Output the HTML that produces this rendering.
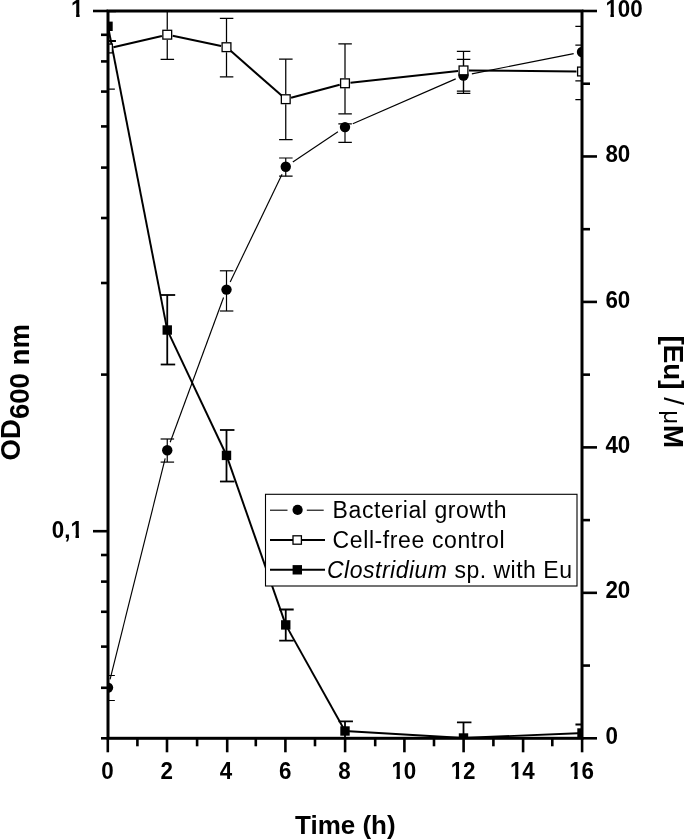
<!DOCTYPE html>
<html><head><meta charset="utf-8"><title>Chart</title>
<style>html,body{margin:0;padding:0;background:#fff;}svg{display:block;}</style>
</head><body>
<svg width="685" height="840" viewBox="0 0 685 840">
<defs><clipPath id="c0"><rect x="-20" y="-60" width="120" height="56.590"/><rect x="-20.000" y="-3.410" width="20.350" height="30.000"/><rect x="5.492" y="-3.410" width="3.875" height="30.000"/><rect x="14.197" y="-3.410" width="85.803" height="30"/></clipPath><clipPath id="c1"><rect x="-20" y="-60" width="120" height="56.590"/><rect x="-20.000" y="-3.410" width="20.350" height="30.000"/><rect x="5.492" y="-3.410" width="3.875" height="30.000"/><rect x="14.197" y="-3.410" width="85.803" height="30"/></clipPath><clipPath id="c2"><rect x="-20" y="-60" width="120" height="56.590"/><rect x="-20.000" y="-3.410" width="20.350" height="30.000"/><rect x="5.492" y="-3.410" width="3.875" height="30.000"/><rect x="14.197" y="-3.410" width="85.803" height="30"/></clipPath><clipPath id="c3"><rect x="-20" y="-60" width="120" height="56.590"/><rect x="-20.000" y="-3.410" width="40.866" height="30.000"/><rect x="26.008" y="-3.410" width="3.875" height="30.000"/><rect x="34.713" y="-3.410" width="65.287" height="30"/></clipPath><clipPath id="pa"><rect x="108.0" y="11.0" width="474.0" height="727.3"/></clipPath></defs>
<rect width="685" height="840" fill="#fff"/>
<g clip-path="url(#pa)" stroke="#000" fill="none" stroke-linecap="butt">
<g><line x1="110.06" y1="679.35" x2="165.19" y2="458.45" stroke-width="1.15"/>
<line x1="170.19" y1="442.23" x2="223.56" y2="297.57" stroke-width="1.15"/>
<line x1="230.19" y1="281.94" x2="282.06" y2="174.36" stroke-width="1.15"/>
<line x1="292.82" y1="161.98" x2="337.93" y2="131.82" stroke-width="1.15"/>
<line x1="352.79" y1="123.71" x2="455.71" y2="78.89" stroke-width="1.15"/>
<line x1="471.84" y1="73.85" x2="573.66" y2="53.65" stroke-width="1.15"/></g>
<g><line x1="108.00" y1="675.50" x2="108.00" y2="700.50" stroke-width="1.2"/>
<line x1="101.35" y1="675.50" x2="114.85" y2="675.50" stroke-width="1.2"/>
<line x1="101.35" y1="700.50" x2="114.85" y2="700.50" stroke-width="1.2"/>
<line x1="167.25" y1="439.00" x2="167.25" y2="462.10" stroke-width="1.2"/>
<line x1="160.60" y1="439.00" x2="174.10" y2="439.00" stroke-width="1.2"/>
<line x1="160.60" y1="462.10" x2="174.10" y2="462.10" stroke-width="1.2"/>
<line x1="226.50" y1="270.80" x2="226.50" y2="311.00" stroke-width="1.2"/>
<line x1="219.85" y1="270.80" x2="233.35" y2="270.80" stroke-width="1.2"/>
<line x1="219.85" y1="311.00" x2="233.35" y2="311.00" stroke-width="1.2"/>
<line x1="285.75" y1="158.00" x2="285.75" y2="176.20" stroke-width="1.2"/>
<line x1="279.10" y1="158.00" x2="292.60" y2="158.00" stroke-width="1.2"/>
<line x1="279.10" y1="176.20" x2="292.60" y2="176.20" stroke-width="1.2"/>
<line x1="345.00" y1="123.90" x2="345.00" y2="142.40" stroke-width="1.2"/>
<line x1="338.35" y1="123.90" x2="351.85" y2="123.90" stroke-width="1.2"/>
<line x1="338.35" y1="142.40" x2="351.85" y2="142.40" stroke-width="1.2"/>
<line x1="463.50" y1="59.40" x2="463.50" y2="93.40" stroke-width="1.2"/>
<line x1="456.85" y1="59.40" x2="470.35" y2="59.40" stroke-width="1.2"/>
<line x1="456.85" y1="93.40" x2="470.35" y2="93.40" stroke-width="1.2"/>
<line x1="582.00" y1="26.30" x2="582.00" y2="80.90" stroke-width="1.2"/>
<line x1="575.35" y1="26.30" x2="588.85" y2="26.30" stroke-width="1.2"/>
<line x1="575.35" y1="80.90" x2="588.85" y2="80.90" stroke-width="1.2"/></g>
<g><line x1="113.36" y1="47.25" x2="161.89" y2="35.95" stroke-width="2.0"/>
<line x1="172.63" y1="35.84" x2="221.12" y2="46.06" stroke-width="2.0"/>
<line x1="230.63" y1="50.83" x2="281.62" y2="95.57" stroke-width="2.0"/>
<line x1="291.06" y1="97.77" x2="339.69" y2="84.73" stroke-width="2.0"/>
<line x1="350.47" y1="82.70" x2="458.03" y2="71.00" stroke-width="2.0"/>
<line x1="469.00" y1="70.45" x2="576.50" y2="71.45" stroke-width="2.0"/></g>
<g><line x1="108.00" y1="7.00" x2="108.00" y2="43.50" stroke-width="1.25"/>
<line x1="108.00" y1="53.50" x2="108.00" y2="89.10" stroke-width="1.25"/>
<line x1="101.35" y1="7.00" x2="114.85" y2="7.00" stroke-width="1.25"/>
<line x1="101.35" y1="89.10" x2="114.85" y2="89.10" stroke-width="1.25"/>
<line x1="167.25" y1="10.10" x2="167.25" y2="29.70" stroke-width="1.25"/>
<line x1="167.25" y1="39.70" x2="167.25" y2="59.30" stroke-width="1.25"/>
<line x1="160.60" y1="10.10" x2="174.10" y2="10.10" stroke-width="1.25"/>
<line x1="160.60" y1="59.30" x2="174.10" y2="59.30" stroke-width="1.25"/>
<line x1="226.50" y1="18.40" x2="226.50" y2="42.20" stroke-width="1.25"/>
<line x1="226.50" y1="52.20" x2="226.50" y2="76.80" stroke-width="1.25"/>
<line x1="219.85" y1="18.40" x2="233.35" y2="18.40" stroke-width="1.25"/>
<line x1="219.85" y1="76.80" x2="233.35" y2="76.80" stroke-width="1.25"/>
<line x1="285.75" y1="59.20" x2="285.75" y2="94.20" stroke-width="1.25"/>
<line x1="285.75" y1="104.20" x2="285.75" y2="139.50" stroke-width="1.25"/>
<line x1="279.10" y1="59.20" x2="292.60" y2="59.20" stroke-width="1.25"/>
<line x1="279.10" y1="139.50" x2="292.60" y2="139.50" stroke-width="1.25"/>
<line x1="345.00" y1="43.90" x2="345.00" y2="78.30" stroke-width="1.25"/>
<line x1="345.00" y1="88.30" x2="345.00" y2="113.80" stroke-width="1.25"/>
<line x1="338.35" y1="43.90" x2="351.85" y2="43.90" stroke-width="1.25"/>
<line x1="338.35" y1="113.80" x2="351.85" y2="113.80" stroke-width="1.25"/>
<line x1="463.50" y1="51.30" x2="463.50" y2="65.40" stroke-width="1.25"/>
<line x1="463.50" y1="75.40" x2="463.50" y2="91.10" stroke-width="1.25"/>
<line x1="456.85" y1="51.30" x2="470.35" y2="51.30" stroke-width="1.25"/>
<line x1="456.85" y1="91.10" x2="470.35" y2="91.10" stroke-width="1.25"/>
<line x1="582.00" y1="45.00" x2="582.00" y2="66.50" stroke-width="1.25"/>
<line x1="582.00" y1="76.50" x2="582.00" y2="99.50" stroke-width="1.25"/>
<line x1="575.35" y1="45.00" x2="588.85" y2="45.00" stroke-width="1.25"/>
<line x1="575.35" y1="99.50" x2="588.85" y2="99.50" stroke-width="1.25"/></g>
<g><line x1="108.77" y1="30.23" x2="166.48" y2="326.07" stroke-width="1.95"/>
<line x1="168.96" y1="333.62" x2="224.79" y2="451.78" stroke-width="1.95"/>
<line x1="227.82" y1="459.18" x2="284.43" y2="621.12" stroke-width="1.95"/>
<line x1="287.70" y1="628.39" x2="343.05" y2="727.51" stroke-width="1.95"/>
<line x1="348.99" y1="731.24" x2="459.51" y2="737.76" stroke-width="1.95"/>
<line x1="467.50" y1="737.83" x2="578.00" y2="733.17" stroke-width="1.95"/></g>
<g><line x1="108.00" y1="11.30" x2="108.00" y2="41.00" stroke-width="1.8"/>
<line x1="101.45" y1="11.30" x2="115.95" y2="11.30" stroke-width="1.8"/>
<line x1="101.45" y1="41.00" x2="115.95" y2="41.00" stroke-width="1.8"/>
<line x1="167.25" y1="295.00" x2="167.25" y2="364.50" stroke-width="1.8"/>
<line x1="160.70" y1="295.00" x2="175.20" y2="295.00" stroke-width="1.8"/>
<line x1="160.70" y1="364.50" x2="175.20" y2="364.50" stroke-width="1.8"/>
<line x1="226.50" y1="430.00" x2="226.50" y2="481.50" stroke-width="1.8"/>
<line x1="219.95" y1="430.00" x2="234.45" y2="430.00" stroke-width="1.8"/>
<line x1="219.95" y1="481.50" x2="234.45" y2="481.50" stroke-width="1.8"/>
<line x1="285.75" y1="609.50" x2="285.75" y2="640.70" stroke-width="1.8"/>
<line x1="279.20" y1="609.50" x2="293.70" y2="609.50" stroke-width="1.8"/>
<line x1="279.20" y1="640.70" x2="293.70" y2="640.70" stroke-width="1.8"/>
<line x1="345.00" y1="721.40" x2="345.00" y2="740.60" stroke-width="1.8"/>
<line x1="338.45" y1="721.40" x2="352.95" y2="721.40" stroke-width="1.8"/>
<line x1="338.45" y1="740.60" x2="352.95" y2="740.60" stroke-width="1.8"/>
<line x1="463.50" y1="722.40" x2="463.50" y2="753.60" stroke-width="1.8"/>
<line x1="456.95" y1="722.40" x2="471.45" y2="722.40" stroke-width="1.8"/>
<line x1="456.95" y1="753.60" x2="471.45" y2="753.60" stroke-width="1.8"/>
<line x1="582.00" y1="724.50" x2="582.00" y2="741.50" stroke-width="1.8"/>
<line x1="575.45" y1="724.50" x2="589.95" y2="724.50" stroke-width="1.8"/>
<line x1="575.45" y1="741.50" x2="589.95" y2="741.50" stroke-width="1.8"/></g>
<g fill="#000" stroke="none"><circle cx="108.00" cy="687.60" r="5.2"/>
<circle cx="167.25" cy="450.20" r="5.2"/>
<circle cx="226.50" cy="289.60" r="5.2"/>
<circle cx="285.75" cy="166.70" r="5.2"/>
<circle cx="345.00" cy="127.10" r="5.2"/>
<circle cx="463.50" cy="75.50" r="5.2"/>
<circle cx="582.00" cy="52.00" r="5.2"/></g>
<rect x="103.60" y="44.10" width="8.8" height="8.8" fill="#fff" stroke="#000" stroke-width="1.3"/>
<rect x="162.85" y="30.30" width="8.8" height="8.8" fill="#fff" stroke="#000" stroke-width="1.3"/>
<rect x="222.10" y="42.80" width="8.8" height="8.8" fill="#fff" stroke="#000" stroke-width="1.3"/>
<rect x="281.35" y="94.80" width="8.8" height="8.8" fill="#fff" stroke="#000" stroke-width="1.3"/>
<rect x="340.60" y="78.90" width="8.8" height="8.8" fill="#fff" stroke="#000" stroke-width="1.3"/>
<rect x="459.10" y="66.00" width="8.8" height="8.8" fill="#fff" stroke="#000" stroke-width="1.3"/>
<rect x="577.60" y="67.10" width="8.8" height="8.8" fill="#fff" stroke="#000" stroke-width="1.3"/>
<rect x="103.30" y="21.60" width="9.4" height="9.4" fill="#000" stroke="#000" stroke-width="0"/>
<rect x="162.55" y="325.30" width="9.4" height="9.4" fill="#000" stroke="#000" stroke-width="0"/>
<rect x="221.80" y="450.70" width="9.4" height="9.4" fill="#000" stroke="#000" stroke-width="0"/>
<rect x="281.05" y="620.20" width="9.4" height="9.4" fill="#000" stroke="#000" stroke-width="0"/>
<rect x="340.30" y="726.30" width="9.4" height="9.4" fill="#000" stroke="#000" stroke-width="0"/>
<rect x="458.80" y="733.30" width="9.4" height="9.4" fill="#000" stroke="#000" stroke-width="0"/>
<rect x="577.30" y="728.30" width="9.4" height="9.4" fill="#000" stroke="#000" stroke-width="0"/>
</g>
<g stroke="#000" stroke-width="2.6" stroke-linecap="butt">
<line x1="107.80" y1="738.30" x2="107.80" y2="752.30"/>
<line x1="137.40" y1="738.30" x2="137.40" y2="746.30"/>
<line x1="167.00" y1="738.30" x2="167.00" y2="752.30"/>
<line x1="197.10" y1="738.30" x2="197.10" y2="746.30"/>
<line x1="227.20" y1="738.30" x2="227.20" y2="752.30"/>
<line x1="255.80" y1="738.30" x2="255.80" y2="746.30"/>
<line x1="285.40" y1="738.30" x2="285.40" y2="752.30"/>
<line x1="315.00" y1="738.30" x2="315.00" y2="746.30"/>
<line x1="345.10" y1="738.30" x2="345.10" y2="752.30"/>
<line x1="375.20" y1="738.30" x2="375.20" y2="746.30"/>
<line x1="404.40" y1="738.30" x2="404.40" y2="752.30"/>
<line x1="434.00" y1="738.30" x2="434.00" y2="746.30"/>
<line x1="463.60" y1="738.30" x2="463.60" y2="752.30"/>
<line x1="493.40" y1="738.30" x2="493.40" y2="746.30"/>
<line x1="523.10" y1="738.30" x2="523.10" y2="752.30"/>
<line x1="552.30" y1="738.30" x2="552.30" y2="746.30"/>
<line x1="582.10" y1="738.30" x2="582.10" y2="752.30"/>
<line x1="101.00" y1="34.80" x2="108.00" y2="34.80"/>
<line x1="101.00" y1="61.41" x2="108.00" y2="61.41"/>
<line x1="101.00" y1="91.58" x2="108.00" y2="91.58"/>
<line x1="101.00" y1="126.41" x2="108.00" y2="126.41"/>
<line x1="101.00" y1="167.60" x2="108.00" y2="167.60"/>
<line x1="101.00" y1="218.01" x2="108.00" y2="218.01"/>
<line x1="101.00" y1="283.00" x2="108.00" y2="283.00"/>
<line x1="101.00" y1="374.60" x2="108.00" y2="374.60"/>
<line x1="101.00" y1="555.00" x2="108.00" y2="555.00"/>
<line x1="101.00" y1="581.61" x2="108.00" y2="581.61"/>
<line x1="101.00" y1="611.78" x2="108.00" y2="611.78"/>
<line x1="101.00" y1="646.61" x2="108.00" y2="646.61"/>
<line x1="101.00" y1="687.80" x2="108.00" y2="687.80"/>
<line x1="93.00" y1="11.00" x2="108.00" y2="11.00"/>
<line x1="93.00" y1="531.20" x2="108.00" y2="531.20"/>
<line x1="101.00" y1="738.30" x2="108.00" y2="738.30"/>
<line x1="582.00" y1="738.30" x2="597.00" y2="738.30"/>
<line x1="582.00" y1="665.57" x2="590.00" y2="665.57"/>
<line x1="582.00" y1="592.84" x2="597.00" y2="592.84"/>
<line x1="582.00" y1="520.11" x2="590.00" y2="520.11"/>
<line x1="582.00" y1="447.38" x2="597.00" y2="447.38"/>
<line x1="582.00" y1="374.65" x2="590.00" y2="374.65"/>
<line x1="582.00" y1="301.92" x2="597.00" y2="301.92"/>
<line x1="582.00" y1="229.19" x2="590.00" y2="229.19"/>
<line x1="582.00" y1="156.46" x2="597.00" y2="156.46"/>
<line x1="582.00" y1="83.73" x2="590.00" y2="83.73"/>
<line x1="582.00" y1="11.00" x2="597.00" y2="11.00"/>
</g>
<rect x="108.0" y="11.0" width="474.0" height="727.3" fill="none" stroke="#000" stroke-width="3"/>
<g font-family="'Liberation Sans', sans-serif" font-size="24.6" font-weight="bold" fill="#000">
<text transform="translate(101.37,778.60) scale(0.91,1)">0</text>
<text transform="translate(160.62,778.60) scale(0.91,1)">2</text>
<text transform="translate(219.87,778.60) scale(0.91,1)">4</text>
<text transform="translate(279.12,778.60) scale(0.91,1)">6</text>
<text transform="translate(338.37,778.60) scale(0.91,1)">8</text>
<text transform="translate(391.40,778.60) scale(0.91,1)" clip-path="url(#c0)">10</text>
<text transform="translate(450.65,778.60) scale(0.91,1)" clip-path="url(#c0)">12</text>
<text transform="translate(509.90,778.60) scale(0.91,1)" clip-path="url(#c0)">14</text>
<text transform="translate(569.15,778.60) scale(0.91,1)" clip-path="url(#c0)">16</text>
<text transform="translate(605.40,743.90) scale(0.91,1)">0</text>
<text transform="translate(605.40,598.44) scale(0.91,1)">20</text>
<text transform="translate(605.40,452.98) scale(0.91,1)">40</text>
<text transform="translate(605.40,307.52) scale(0.91,1)">60</text>
<text transform="translate(605.40,162.06) scale(0.91,1)">80</text>
<text transform="translate(605.40,16.60) scale(0.91,1)" clip-path="url(#c1)">100</text>
<text transform="translate(71.10,16.60) scale(0.91,1)" clip-path="url(#c2)">1</text>
<text transform="translate(51.80,537.60) scale(0.91,1)" clip-path="url(#c3)">0,1</text>
</g>
<g font-family="'Liberation Sans', sans-serif" font-weight="bold" fill="#000">
<text x="295" y="834" font-size="26">Time (h)</text>
<text transform="translate(20.4,460.5) rotate(-90)" font-size="27.6">OD<tspan dy="8.2">600 nm</tspan></text>
<text transform="translate(664.1,335.5) rotate(90)" font-size="27.8">[Eu]<tspan font-weight="normal"> / <tspan font-size="24" dx="-2.5">μ</tspan></tspan><tspan dx="0.9">M</tspan></text>
</g>
<g>
<rect x="265.5" y="494.3" width="311.5" height="91.7" fill="#fff" stroke="#000" stroke-width="1.1"/>
<g stroke="#000">
<line x1="270" y1="510.2" x2="287.5" y2="510.2" stroke-width="1.1"/>
<line x1="306.8" y1="510.2" x2="323.7" y2="510.2" stroke-width="1.1"/>
<circle cx="297.6" cy="509.9" r="5.1" fill="#000" stroke="none"/>
<line x1="270" y1="540" x2="325" y2="540" stroke-width="2.1"/>
<rect x="293" y="535.8" width="8.4" height="8.4" fill="#fff" stroke-width="1.3"/>
<line x1="270" y1="569.8" x2="325" y2="569.8" stroke-width="2.1"/>
<rect x="292.6" y="565.1" width="9.4" height="9.4" fill="#000" stroke="none"/>
</g>
<g font-family="'Liberation Sans', sans-serif" font-size="23" fill="#000" letter-spacing="0.6">
<text x="332.6" y="517.5">Bacterial growth</text>
<text x="332.6" y="548">Cell-free control</text>
<text x="327" y="578" letter-spacing="0.5"><tspan font-style="italic">Clostridium</tspan> sp. with Eu</text>
</g>
</g>
</svg>
</body></html>
